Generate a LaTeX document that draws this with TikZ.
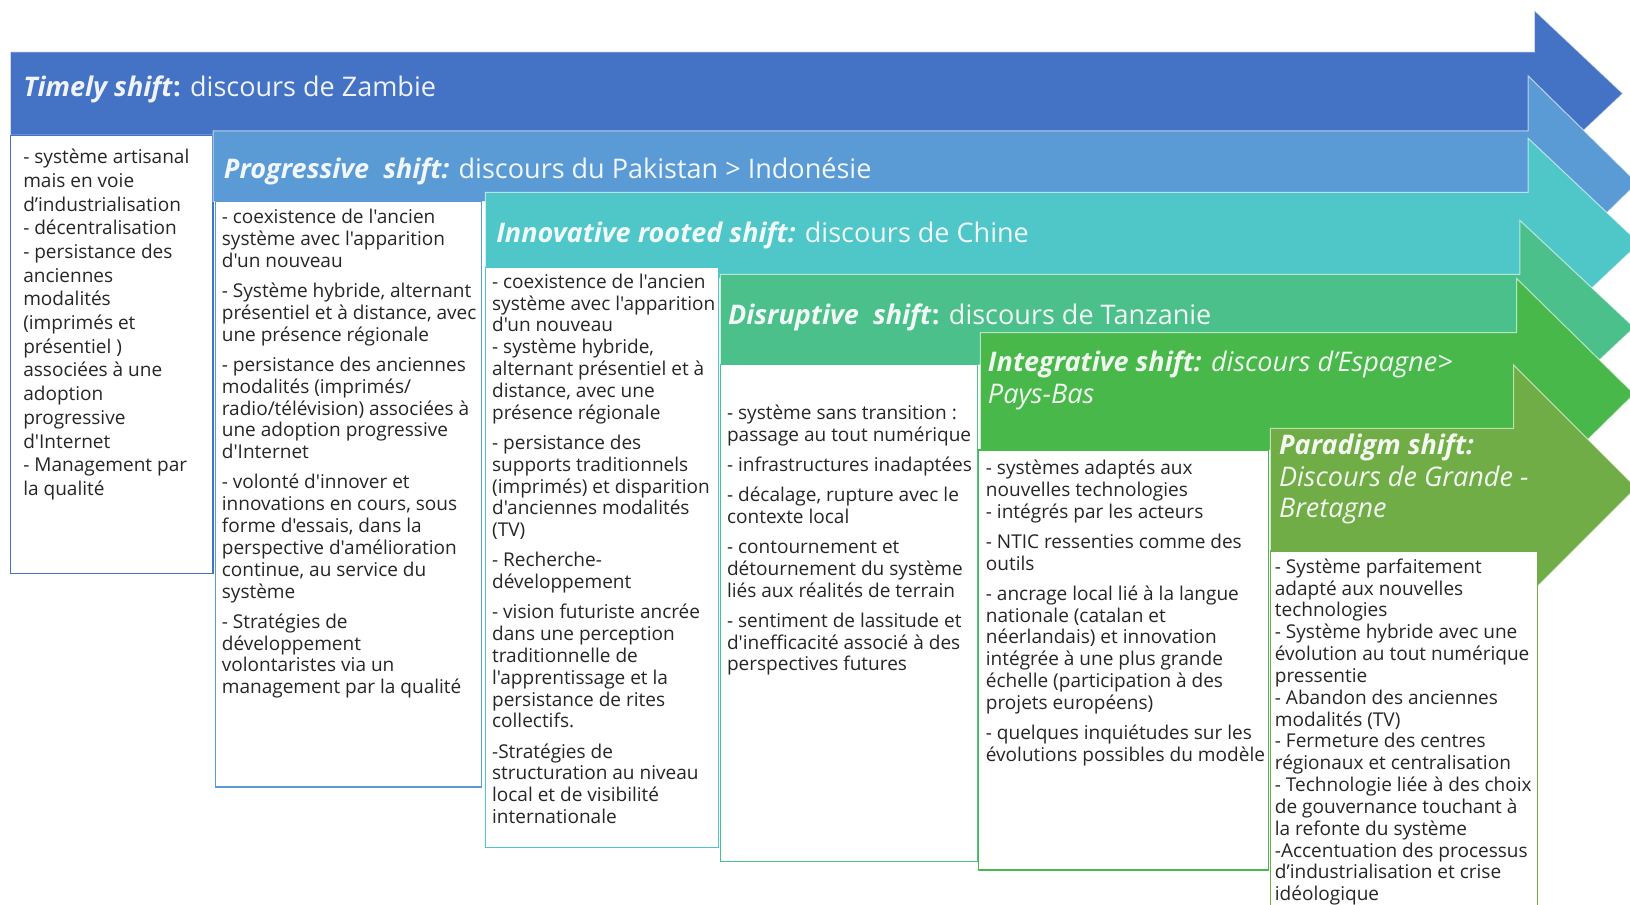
\documentclass[tikz,border=0pt]{standalone}
\usepackage{fontspec}
\setmainfont{Open Sans}[WordSpace=0.68, Ligatures=TeXOff]
\newfontfamily\titlefont{Open Sans}[Ligatures=TeXOff]
\usetikzlibrary{positioning}

\definecolor{timely}{HTML}{4472C4}
\definecolor{progressive}{HTML}{5B9BD5}
\definecolor{innovative}{HTML}{4FC7C8}
\definecolor{disruptive}{HTML}{4CC08B}
\definecolor{integrative}{HTML}{49B84A}
\definecolor{paradigm}{HTML}{70AD47}
\definecolor{bodytext}{HTML}{262626}

\begin{document}
\begin{tikzpicture}[
        x=0.5pt, y=-0.5pt,
        shiftarrow/.style={draw=white, draw opacity=0.6, line width=0.5pt},
        colbox/.style={fill=white, line width=0.6pt},
        coltext/.style={anchor=north west, inner sep=0pt, align=left, text=bodytext,
            font=\fontsize{9.15}{10.5}\selectfont},
        shifttitle/.style={anchor=west, inner sep=0pt, align=left,
            font=\titlefont\fontsize{13}{15.2}\selectfont}]

        \useasboundingbox (0,0) rectangle (1568,870);
        \clip (0,0) rectangle (1568,870);
        \fill[white] (0,0) rectangle (1568,870);

        % --- Timely shift ---
        \path[fill=timely, shiftarrow] (10,50) -- (1476,50) -- (1476,10) -- (1561,90)
            -- (1476,170) -- (1476,130) -- (10,130) -- cycle;
        \draw[colbox, draw=timely] (10,130) rectangle (205,552);
        \node[shifttitle, text=white!92!timely] (timely) at (22,86)
            {\textbf{\textit{Timely shift}:} discours de Zambie};
        \node[coltext, font=\fontsize{9.15}{11.4}\selectfont] (timelytext) at (22,143)
            {- système artisanal\\
             mais en voie\\
             d’industrialisation\\
             - décentralisation\\
             - persistance des\\
             anciennes\\
             modalités\\
             (imprimés et\\
             présentiel )\\
             associées à une\\
             adoption\\
             progressive\\
             d'Internet\\
             - Management par\\
             la qualité};

        % --- Progressive shift ---
        \path[fill=progressive, shiftarrow] (205,126) -- (1470,126) -- (1470,73) -- (1575,176)
            -- (1470,279) -- (1470,194) -- (205,194) -- cycle;
        \draw[colbox, draw=progressive] (207,194) rectangle (463,757);
        \node[shifttitle, text=white!92!progressive] (progressive) at (215,165)
            {\textbf{\textit{Progressive\ \ shift:}} discours du Pakistan > Indonésie};
        \node[coltext] (progressivetext) at (213,201)
            {- coexistence de l'ancien\\
             système avec l'apparition\\
             d'un nouveau\\[4pt]
             - Système hybride, alternant\\
             présentiel et à distance, avec\\
             une présence régionale\\[4pt]
             - persistance des anciennes\\
             modalités (imprimés/\\
             radio/télévision) associées à\\
             une adoption progressive\\
             d'Internet\\[4pt]
             - volonté d'innover et\\
             innovations en cours, sous\\
             forme d'essais, dans la\\
             perspective d'amélioration\\
             continue, au service du\\
             système\\[4pt]
             - Stratégies de\\
             développement\\
             volontaristes via un\\
             management par la qualité};

        % --- Innovative rooted shift ---
        \path[fill=innovative, shiftarrow] (467,185) -- (1470,185) -- (1470,133) -- (1577,234)
            -- (1470,335) -- (1470,268) -- (467,268) -- cycle;
        \draw[colbox, draw=innovative] (467,257) rectangle (691,815);
        \node[shifttitle, text=white!92!innovative] (innovative) at (477,226)
            {\textbf{\textit{Innovative rooted shift:}} discours de Chine};
        \node[coltext] (innovativetext) at (473,263)
            {- coexistence de l'ancien\\
             système avec l'apparition\\
             d'un nouveau\\
             - système hybride,\\
             alternant présentiel et à\\
             distance, avec une\\
             présence régionale\\[4pt]
             - persistance des\\
             supports traditionnels\\
             (imprimés) et disparition\\
             d'anciennes modalités\\
             (TV)\\[4pt]
             - Recherche-\\
             développement\\[4pt]
             - vision futuriste ancrée\\
             dans une perception\\
             traditionnelle de\\
             l'apprentissage et la\\
             persistance de rites\\
             collectifs.\\[4pt]
             -Stratégies de\\
             structuration au niveau\\
             local et de visibilité\\
             internationale};

        % --- Disruptive shift ---
        \path[fill=disruptive, shiftarrow] (693,264) -- (1462,264) -- (1462,212) -- (1572,315)
            -- (1462,418) -- (1462,351) -- (693,351) -- cycle;
        \draw[colbox, draw=disruptive] (693,351) rectangle (940,829);
        \node[shifttitle, text=white!92!disruptive] (disruptive) at (700,305)
            {\textbf{\textit{Disruptive\ \ shift}:} discours de Tanzanie};
        \node[coltext] (disruptivetext) at (699,389)
            {- système sans transition :\\
             passage au tout numérique\\[4pt]
             - infrastructures inadaptées\\[4pt]
             - décalage, rupture avec le\\
             contexte local\\[4pt]
             - contournement et\\
             détournement du système\\
             liés aux réalités de terrain\\[4pt]
             - sentiment de lassitude et\\
             d'inefficacité associé à des\\
             perspectives futures};

        % --- Integrative shift ---
        \path[fill=integrative, shiftarrow] (943,320) -- (1459,320) -- (1459,268) -- (1572,379)
            -- (1459,490) -- (1459,433) -- (943,433) -- cycle;
        \draw[colbox, draw=integrative] (941,433) rectangle (1220,837);
        \node[shifttitle, text=white!92!integrative] (integrative) at (950,366)
            {\textbf{\textit{Integrative shift:}} \textit{discours d’Espagne>}\\
             \textit{Pays-Bas}};
        \node[coltext] (integrativetext) at (948,442)
            {- systèmes adaptés aux\\
             nouvelles technologies\\
             - intégrés par les acteurs\\[4pt]
             - NTIC ressenties comme des\\
             outils\\[4pt]
             - ancrage local lié à la langue\\
             nationale (catalan et\\
             néerlandais) et innovation\\
             intégrée à une plus grande\\
             échelle (participation à des\\
             projets européens)\\[4pt]
             - quelques inquiétudes sur les\\
             évolutions possibles du modèle};

        % --- Paradigm shift ---
        \path[fill=paradigm, shiftarrow] (1222,412) -- (1456,412) -- (1456,351) -- (1574,469)
            -- (1456,587) -- (1456,530) -- (1222,530) -- cycle;
        \draw[colbox, draw=paradigm] (1222,530) rectangle (1479,880);
        \node[shifttitle, text=white!92!paradigm] (paradigm) at (1230,461)
            {\textbf{\textit{Paradigm shift:}}\\
             \textit{Discours de Grande -}\\
             \textit{Bretagne}};
        \node[coltext] (paradigmtext) at (1226,537)
            {- Système parfaitement\\
             adapté aux nouvelles\\
             technologies\\
             - Système hybride avec une\\
             évolution au tout numérique\\
             pressentie\\
             - Abandon des anciennes\\
             modalités (TV)\\
             - Fermeture des centres\\
             régionaux et centralisation\\
             - Technologie liée à des choix\\
             de gouvernance touchant à\\
             la refonte du système\\
             -Accentuation des processus\\
             d’industrialisation et crise\\
             idéologique};

\end{tikzpicture}
\end{document}
